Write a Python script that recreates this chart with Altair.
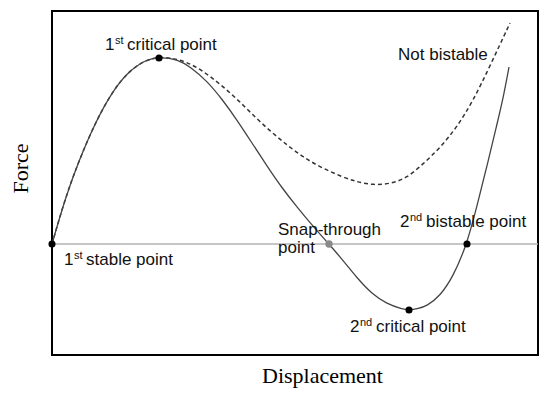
import altair as alt
import pandas as pd

# Solid (bistable) curve: displacement, force
solid_x = [0, 13, 26, 43, 60, 76, 93, 107, 125, 140, 155, 170, 185, 200, 215, 230, 245, 260, 275, 290, 305, 320, 335, 350, 357, 365, 375, 388, 401, 415, 425, 435, 445, 451, 457]
solid_f = [0, 45, 81, 121, 152, 172, 184, 187, 185, 176, 163, 145, 124, 101, 78, 56, 37, 19, 2, -15, -34, -50, -60, -65, -66, -65, -62, -52, -33, 0, 38, 78, 120, 145, 177]

# Dashed (not bistable) curve
dash_x = [0, 13, 26, 43, 60, 76, 93, 107, 120, 135, 151, 168, 185, 201, 218, 235, 251, 268, 288, 305, 321, 338, 355, 371, 388, 405, 421, 438, 458]
dash_f = [0, 45, 81, 121, 152, 172, 184, 187, 186, 182, 173, 160, 145, 129, 113, 99, 87, 77, 68, 62, 59, 60, 66, 80, 96, 117, 143, 178, 221]

# Marked points
pt_x = [0, 107, 357, 415]
pt_f = [0, 186, -66, 0]
snap_x = [277]
snap_f = [0]

# Annotation labels: number, superscript, rest, anchor x, anchor y
lab_num = ["1", "1", "2", "2"]
lab_sup = ["st", "st", "nd", "nd"]
lab_rest = ["critical point", "stable point", "bistable point", "critical point"]
lab_x = [53, 12, 348, 298]
lab_y = [194, -21, 17, -88]

plain_text = ["Not bistable", "Snap-through", "point"]
plain_x = [346, 226, 226]
plain_y = [184, 9, -9]

xs = alt.Scale(domain=[0, 486], nice=False, zero=False)
ys = alt.Scale(domain=[-111, 233], nice=False, zero=False)

x_axis = alt.Axis(labels=False, ticks=False, domain=False, grid=False,
                  title="Displacement", titleFont="Liberation Serif", titleFontSize=22,
                  titleFontWeight="normal", titleColor="black",
                  titleX=270, titleY=27, titleBaseline="alphabetic", titleAlign="center")
y_axis = alt.Axis(labels=False, ticks=False, domain=False, grid=False,
                  title="Force", titleFont="Liberation Serif", titleFontSize=22,
                  titleFontWeight="normal", titleColor="black",
                  titleX=-25, titleY=157, titleBaseline="alphabetic", titleAlign="center")

zero_df = pd.DataFrame({"x": [0, 486], "f": [0, 0]})
zero = alt.Chart(zero_df).mark_line(color="#b3b3b3", strokeWidth=1.6).encode(
    x=alt.X("x:Q", scale=xs, axis=x_axis),
    y=alt.Y("f:Q", scale=ys, axis=y_axis),
)

dash_df = pd.DataFrame({"x": dash_x, "f": dash_f})
dashed = alt.Chart(dash_df).mark_line(color="#333333", strokeWidth=1.5, strokeDash=[4, 3],
                                      interpolate="basis").encode(
    x=alt.X("x:Q", scale=xs), y=alt.Y("f:Q", scale=ys), order="x:Q")

solid_df = pd.DataFrame({"x": solid_x, "f": solid_f})
solid = alt.Chart(solid_df).mark_line(color="#444444", strokeWidth=1.3,
                                      interpolate="basis").encode(
    x=alt.X("x:Q", scale=xs), y=alt.Y("f:Q", scale=ys), order="x:Q")

pts = alt.Chart(pd.DataFrame({"x": pt_x, "f": pt_f})).mark_circle(
    color="black", opacity=1, size=50).encode(
    x=alt.X("x:Q", scale=xs), y=alt.Y("f:Q", scale=ys))
snap = alt.Chart(pd.DataFrame({"x": snap_x, "f": snap_f})).mark_circle(
    color="#8a8a8a", opacity=1, size=55).encode(
    x=alt.X("x:Q", scale=xs), y=alt.Y("f:Q", scale=ys))

lab_df = pd.DataFrame({"num": lab_num, "sup": lab_sup, "rest": lab_rest, "x": lab_x, "y": lab_y})
lab_df["rest_x"] = lab_df["x"] + lab_df["sup"].map({"st": 22, "nd": 26})

font = "Liberation Sans"
num_t = alt.Chart(lab_df).mark_text(font=font, fontSize=17, align="left", baseline="alphabetic",
                                    color="#111111").encode(
    x=alt.X("x:Q", scale=xs), y=alt.Y("y:Q", scale=ys), text="num:N")
sup_t = alt.Chart(lab_df).mark_text(font=font, fontSize=11, align="left", baseline="alphabetic",
                                    dx=10, dy=-6, color="#111111").encode(
    x=alt.X("x:Q", scale=xs), y=alt.Y("y:Q", scale=ys), text="sup:N")
rest_t = alt.Chart(lab_df).mark_text(font=font, fontSize=17, align="left", baseline="alphabetic",
                                     color="#111111").encode(
    x=alt.X("rest_x:Q", scale=xs), y=alt.Y("y:Q", scale=ys), text="rest:N")
plain_t = alt.Chart(pd.DataFrame({"t": plain_text, "x": plain_x, "y": plain_y})).mark_text(
    font=font, fontSize=17, align="left", baseline="alphabetic", color="#111111").encode(
    x=alt.X("x:Q", scale=xs), y=alt.Y("y:Q", scale=ys), text="t:N")

chart = alt.layer(zero, dashed, solid, pts, snap, num_t, sup_t, rest_t, plain_t).properties(
    width=486, height=344,
    autosize=alt.AutoSizeParams(type="none"),
    padding={"left": 44, "top": 3, "right": 4, "bottom": 36},
    background="white",
).configure_view(stroke="black", strokeWidth=2)

chart.save("out.html", embed_options={"renderer": "svg", "actions": False})
